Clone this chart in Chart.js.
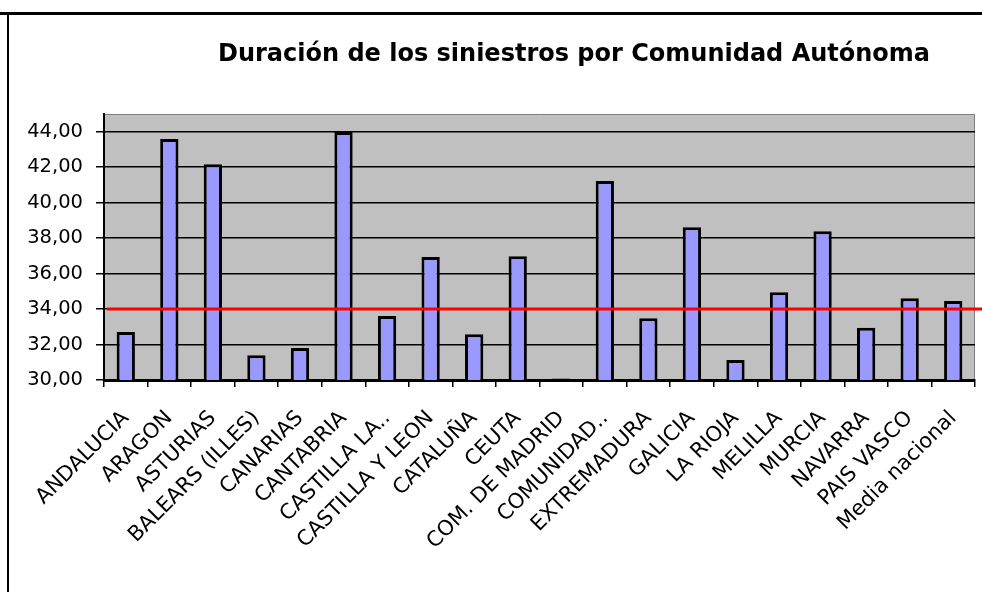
<!DOCTYPE html>
<html lang="es">
<head>
<meta charset="UTF-8">
<title>Duración de los siniestros</title>
<script src="https://cdn.jsdelivr.net/npm/chart.js"></script>
<style>
    body { margin: 0; background: #fff; }
    #grafico { display: block; }
</style>
</head>
<body>
<canvas id="grafico" width="982" height="592"></canvas>
<script>
    // datos
    const comunidades = ["ANDALUCIA", "ARAGON", "ASTURIAS", "BALEARS (ILLES)", "CANARIAS", "CANTABRIA",
        "CASTILLA LA..", "CASTILLA Y LEON", "CATALUÑA", "CEUTA", "COM. DE MADRID", "COMUNIDAD..",
        "EXTREMADURA", "GALICIA", "LA RIOJA", "MELILLA", "MURCIA", "NAVARRA", "PAIS VASCO", "Media nacional"];
    const duracion = [32.71, 43.59, 42.16, 31.39, 31.81, 43.98, 33.61, 36.94, 32.58, 36.98,
        30.08, 41.22, 33.48, 38.62, 31.13, 34.95, 38.39, 32.94, 34.61, 34.46];
    const lineaMedia = 34;
    const ejeMin = 30;
    const ejeMax = 45;
    const ticksY = [30, 32, 34, 36, 38, 40, 42, 44];
    const titulo = "Duración de los siniestros por Comunidad Autónoma";

    const fuente = "'DejaVu Sans', 'Liberation Sans', Arial, sans-serif";

    // fondo gris, marco, titulo y linea roja de la media
    const extras = {
        id: 'extras',
        beforeDraw(chart) {
            const { ctx, chartArea: a } = chart;
            ctx.save();
            ctx.fillStyle = '#000';
            ctx.fillRect(0, 12, chart.width, 3);
            ctx.fillRect(7, 12, 2, chart.height - 12);
            ctx.fillStyle = '#c0c0c0';
            ctx.fillRect(a.left, a.top, a.right - a.left, a.bottom - a.top);
            ctx.strokeStyle = '#808080';
            ctx.lineWidth = 1;
            ctx.beginPath();
            ctx.moveTo(a.left, a.top + 0.5);
            ctx.lineTo(a.right - 0.5, a.top + 0.5);
            ctx.lineTo(a.right - 0.5, a.bottom);
            ctx.stroke();
            ctx.fillStyle = '#000';
            ctx.font = "bold 24px " + fuente;
            ctx.textAlign = 'center';
            ctx.textBaseline = 'middle';
            ctx.fillText(titulo, 574, 55);
            ctx.restore();
        },
        afterDatasetsDraw(chart) {
            const { ctx, chartArea: a } = chart;
            const y = chart.scales.y.getPixelForValue(lineaMedia);
            ctx.save();
            ctx.strokeStyle = '#ff0000';
            ctx.lineWidth = 3;
            ctx.beginPath();
            ctx.moveTo(a.left + 3, y);
            ctx.lineTo(chart.width, y);
            ctx.stroke();
            ctx.restore();
        }
    };

    new Chart(document.getElementById('grafico'), {
        type: 'bar',
        data: {
            labels: comunidades,
            datasets: [{
                label: 'Duración',
                data: duracion,
                backgroundColor: '#9999ff',
                borderColor: '#000',
                borderWidth: 3,
                barPercentage: 0.42,
                categoryPercentage: 1
            }]
        },
        options: {
            responsive: false,
            animation: false,
            layout: { padding: { top: 114, right: 7, left: 0, bottom: 0 } },
            plugins: {
                legend: { display: false },
                tooltip: { enabled: false }
            },
            scales: {
                x: {
                    grid: { drawOnChartArea: false, color: '#000', lineWidth: 1.5, tickLength: 7 },
                    border: { color: '#000', width: 3 },
                    ticks: {
                        color: '#000',
                        font: { family: fuente, size: 21 },
                        minRotation: 45,
                        maxRotation: 45,
                        autoSkip: false,
                        padding: 19
                    },
                    afterFit(s) {
                        s.height = 212;
                        s.paddingRight = 0;
                    }
                },
                y: {
                    min: ejeMin,
                    max: ejeMax,
                    grid: { color: '#000', lineWidth: 1.5, tickLength: 8 },
                    border: { color: '#000', width: 2 },
                    ticks: {
                        color: '#000',
                        padding: 13,
                        font: { family: fuente, size: 19.5 },
                        callback: v => v.toFixed(2).replace('.', ',')
                    },
                    afterBuildTicks(s) { s.ticks = ticksY.map(v => ({ value: v })); },
                    afterFit(s) { s.width = 104; }
                }
            }
        },
        plugins: [extras]
    });
</script>
</body>
</html>
